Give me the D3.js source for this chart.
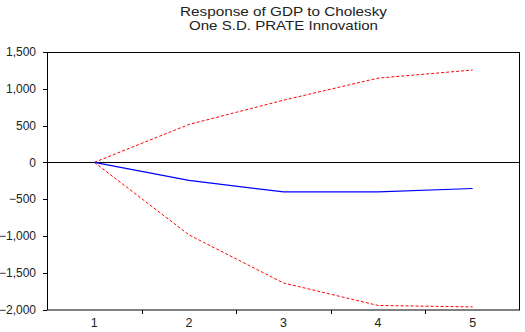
<!DOCTYPE html>
<html>
<head>
<meta charset="utf-8">
<script src="https://cdnjs.cloudflare.com/ajax/libs/d3/7.8.5/d3.min.js"></script>
<style>
  body { margin: 0; background: #fff; }
  text { font-family: "Liberation Sans", Arial, sans-serif; fill: #222; }
</style>
</head>
<body>
<svg id="chart" width="525" height="332"></svg>
<script>
// data
var periods = [1, 2, 3, 4, 5];
var response = [0, -245, -402, -402, -355];
var upperBand = [0, 515, 845, 1145, 1255];
var lowerBand = [0, -985, -1640, -1945, -1965];
var yTicks = [-2000, -1500, -1000, -500, 0, 500, 1000, 1500];
var titleLines = ["Response of GDP to Cholesky", "One S.D. PRATE Innovation"];
var titleWidths = [207, 189];

var margin = {top: 52, right: 5, bottom: 22, left: 47},
    width = 525 - margin.left - margin.right;

var svg = d3.select("#chart");

var xScale = d3.scaleBand()
        .domain(periods)
        .range([margin.left, margin.left + width]);

var yScale = d3.scaleLinear()
        .domain([-2000, 1500])
        .range([309.5, margin.top]);

var fmt = d3.format(",");

// title
svg.append("g").selectAll("text")
        .data(titleLines).enter().append("text")
        .attr("x", margin.left + width / 2)
        .attr("y", function (d, i) { return 16 + i * 13.5; })
        .attr("text-anchor", "middle")
        .attr("textLength", function (d, i) { return titleWidths[i]; })
        .attr("lengthAdjust", "spacingAndGlyphs")
        .style("font-size", "13px")
        .text(function (d) { return d; });

// y axis ticks and labels
var yAxis = svg.append("g");
yAxis.selectAll("line")
        .data(yTicks).enter().append("line")
        .attr("x1", margin.left - 4)
        .attr("x2", margin.left)
        .attr("y1", function (d) { return Math.round(yScale(d)) + 0.5; })
        .attr("y2", function (d) { return Math.round(yScale(d)) + 0.5; })
        .attr("stroke", "#000");
yAxis.selectAll("text")
        .data(yTicks).enter().append("text")
        .attr("x", 36)
        .attr("y", function (d) { return yScale(d); })
        .attr("dy", "0.35em")
        .attr("text-anchor", "end")
        .style("font-size", "12px")
        .text(function (d) { return fmt(d); });

// x axis ticks at band edges, labels at band centres
var xAxis = svg.append("g");
xAxis.selectAll("line")
        .data(periods.slice(1)).enter().append("line")
        .attr("x1", function (d) { return Math.round(xScale(d)) + 0.5; })
        .attr("x2", function (d) { return Math.round(xScale(d)) + 0.5; })
        .attr("y1", 310)
        .attr("y2", 314)
        .attr("stroke", "#000");
xAxis.selectAll("text")
        .data(periods).enter().append("text")
        .attr("x", function (d) { return xScale(d) + xScale.bandwidth() / 2; })
        .attr("y", 327)
        .attr("text-anchor", "middle")
        .style("font-size", "12.5px")
        .text(function (d) { return d; });

// frame
svg.append("rect")
        .attr("x", margin.left + 0.5)
        .attr("y", margin.top + 0.5)
        .attr("width", width - 1)
        .attr("height", 310 - margin.top - 0.5)
        .attr("fill", "none")
        .attr("stroke", "#000");

// zero line
svg.append("line")
        .attr("x1", margin.left)
        .attr("x2", margin.left + width)
        .attr("y1", Math.round(yScale(0)) + 0.5)
        .attr("y2", Math.round(yScale(0)) + 0.5)
        .attr("stroke", "#000");

function lineFor(values) {
    return d3.line()
            .x(function (d, i) { return xScale(periods[i]) + xScale.bandwidth() / 2; })
            .y(function (d) { return yScale(d); })(values);
}

svg.append("path")
        .attr("d", lineFor(upperBand))
        .attr("fill", "none")
        .attr("stroke", "#ff0000")
        .attr("stroke-width", 1)
        .attr("stroke-dasharray", "3,2");

svg.append("path")
        .attr("d", lineFor(lowerBand))
        .attr("fill", "none")
        .attr("stroke", "#ff0000")
        .attr("stroke-width", 1)
        .attr("stroke-dasharray", "3,2");

svg.append("path")
        .attr("d", lineFor(response))
        .attr("fill", "none")
        .attr("stroke", "#0000ff")
        .attr("stroke-width", 1.2);
</script>
</body>
</html>
